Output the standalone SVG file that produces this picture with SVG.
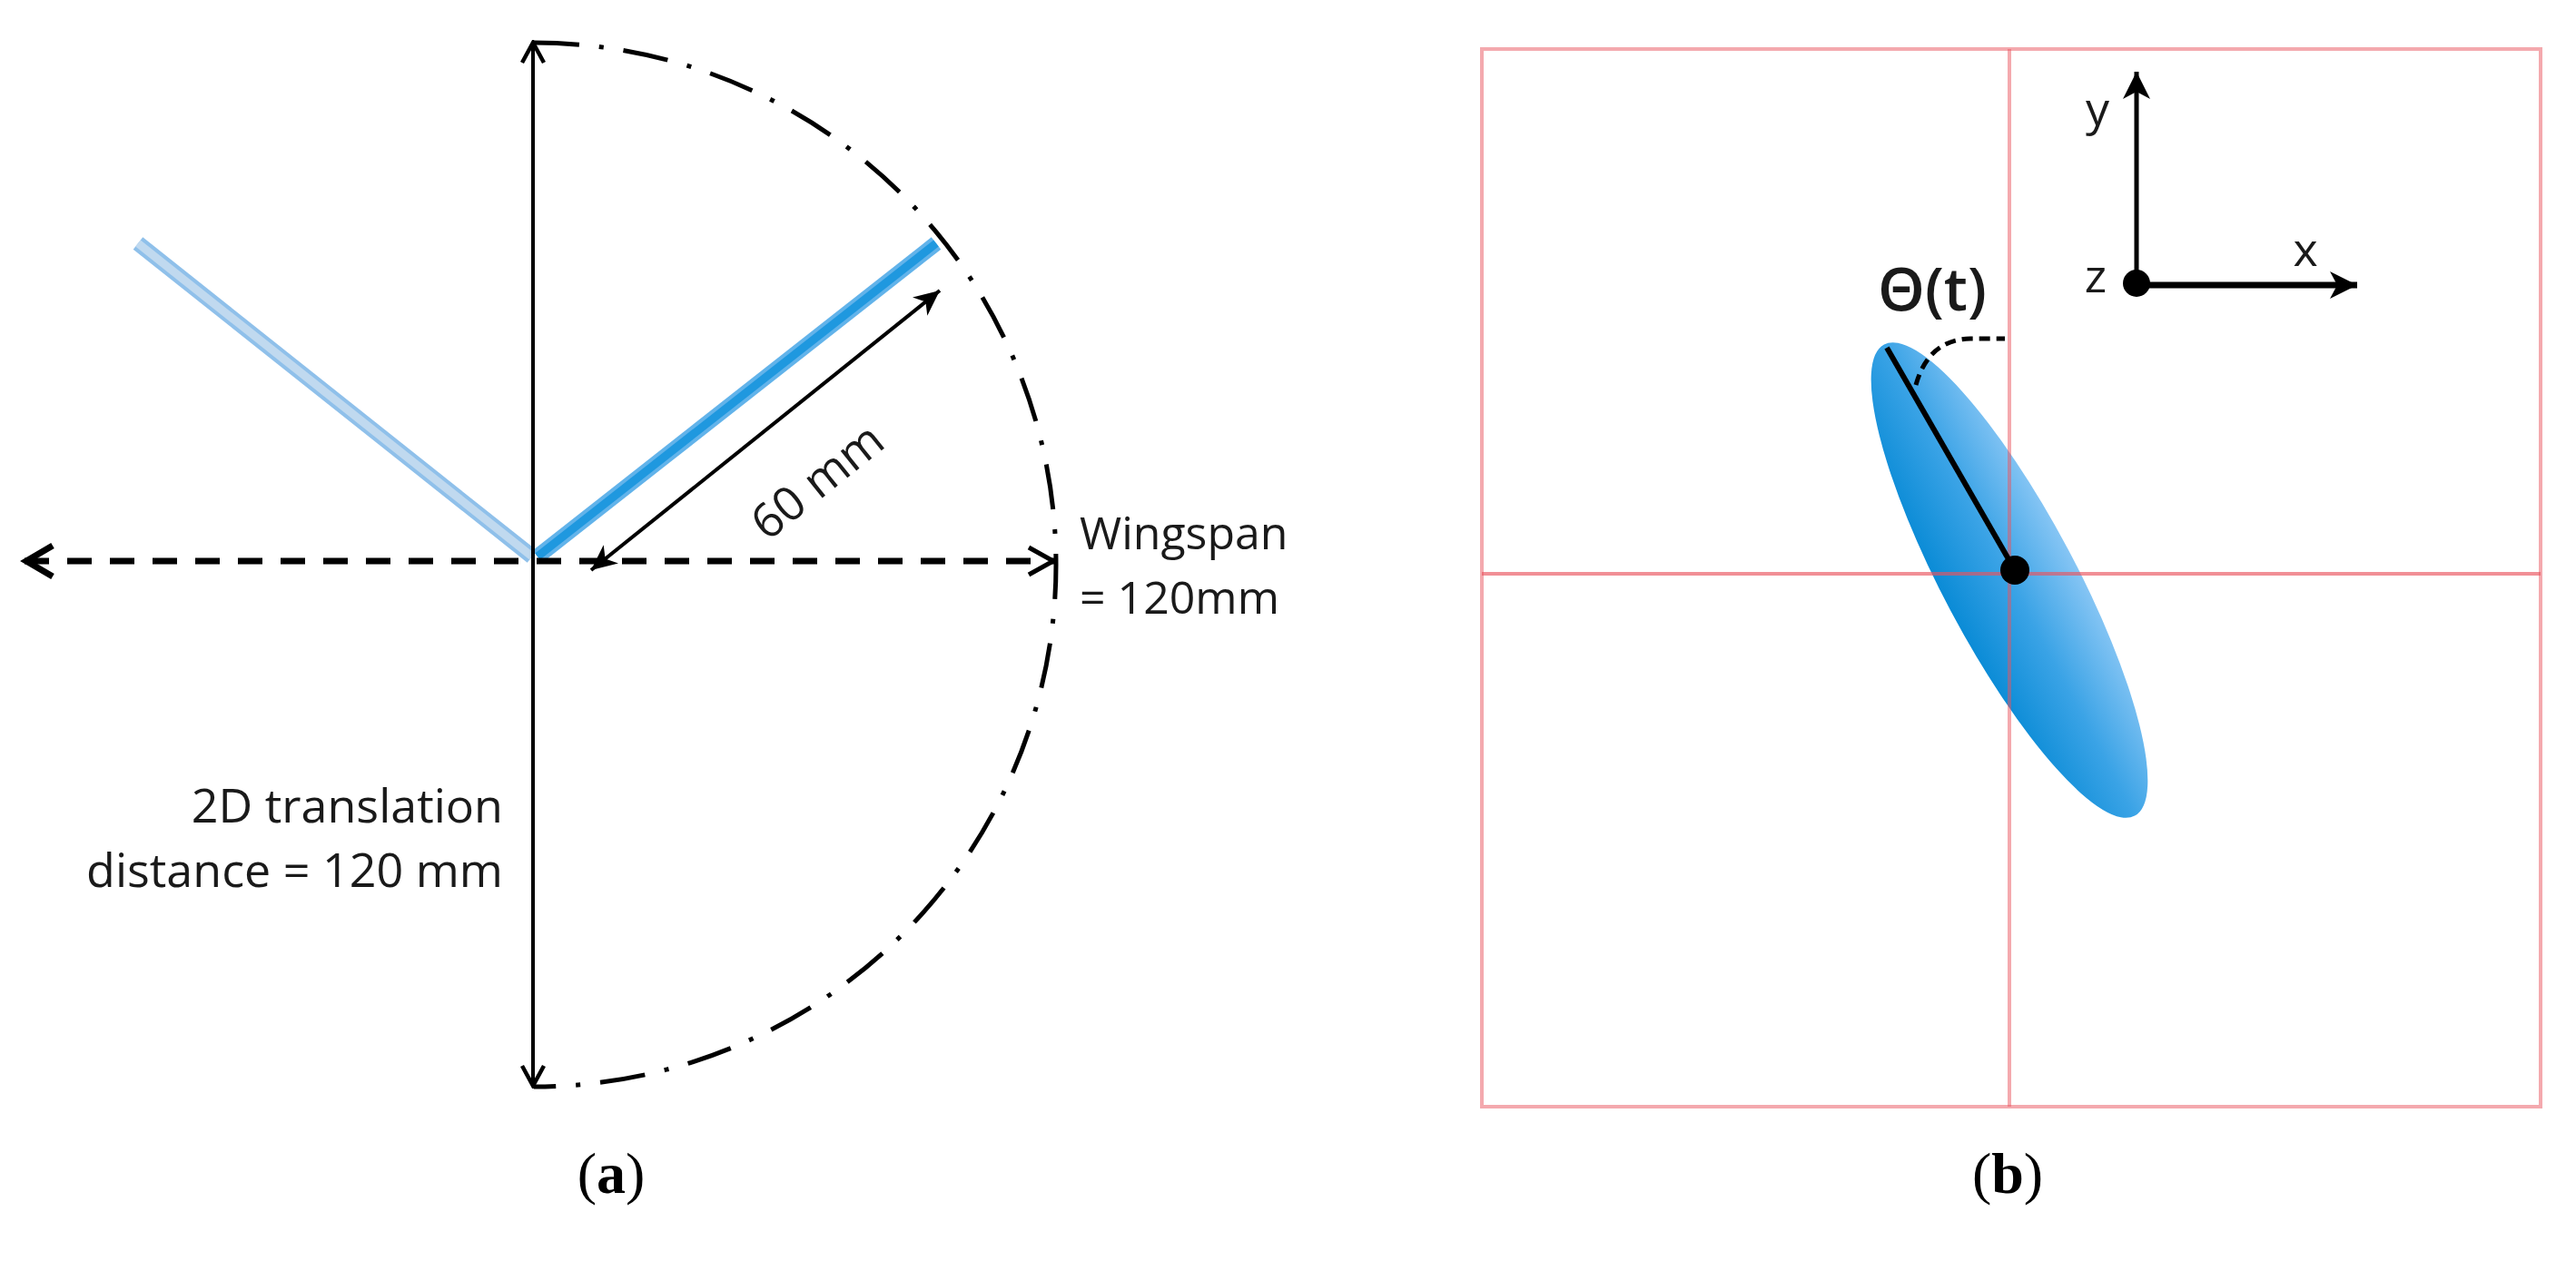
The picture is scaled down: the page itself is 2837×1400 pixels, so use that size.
<svg xmlns="http://www.w3.org/2000/svg" width="2837" height="1400" viewBox="0 0 2837 1400">
  <style>
    .lbl { font-family: "Open Sans", "Liberation Sans", sans-serif; font-size: 52px; fill: #1a1a1a; }
    .cap { font-family: "Liberation Serif", serif; font-size: 64px; fill: #000; }
    .solid { fill: none; stroke: #000; stroke-width: 4; }
    .dashed { fill: none; stroke: #000; stroke-width: 7; stroke-dasharray: 27 20; }
    .dashdot { fill: none; stroke: #000; stroke-width: 5; stroke-dasharray: 50 22 5 22; }
    .grid { fill: none; stroke: #e9535d; stroke-opacity: 0.5; stroke-width: 4; }
  </style>
  <defs>
    <marker id="chev" viewBox="0 0 30 30" refX="27" refY="15" markerWidth="30" markerHeight="30" markerUnits="userSpaceOnUse" orient="auto-start-reverse">
      <path d="M5,3 L27,15 L5,27" fill="none" stroke="#000" stroke-width="4.5"/>
    </marker>
    <marker id="solidHead" viewBox="0 0 30 30" refX="28" refY="15" markerWidth="30" markerHeight="30" markerUnits="userSpaceOnUse" orient="auto-start-reverse">
      <path d="M0,2 L28,15 L0,28 L8,15 z" fill="#000"/>
    </marker>
    <marker id="axisHead" viewBox="0 0 34 34" refX="32" refY="17" markerWidth="34" markerHeight="34" markerUnits="userSpaceOnUse" orient="auto">
      <path d="M2,2 L32,17 L2,32 L10,17 z" fill="#000"/>
    </marker>
    <linearGradient id="ellGrad" x1="0" y1="0" x2="1" y2="0">
      <stop offset="0" stop-color="#0a8bd6"/>
      <stop offset="0.5" stop-color="#3aa3e6"/>
      <stop offset="1" stop-color="#86c5f4"/>
    </linearGradient>
  </defs>

  <rect x="0" y="0" width="2837" height="1400" fill="#fff"/>

  <!-- Panel (a) -->
  <g id="panel-a">
    <g id="wing-left">
      <line x1="152" y1="268" x2="586" y2="613" stroke="#8fc0ea" stroke-width="17"/>
      <line x1="152" y1="268" x2="586" y2="613" stroke="#c0d9ef" stroke-width="9"/>
    </g>
    <g id="wing-right">
      <line x1="592" y1="613" x2="1031" y2="268" stroke="#62b3ea" stroke-width="17"/>
      <line x1="592" y1="613" x2="1031" y2="268" stroke="#1f98df" stroke-width="9"/>
    </g>
    <g id="sweep-arc">
      <path class="dashdot" d="M588,47 A575,575 0 0 1 588,1197"/>
    </g>
    <g id="connectors-a">
      <line class="solid" x1="587" y1="1196" x2="587" y2="47" marker-start="url(#chev)" marker-end="url(#chev)"/>
      <line class="dashed" x1="27" y1="618" x2="1162" y2="618"/>
      <path d="M58,601 L29,618 L58,635" fill="none" stroke="#000" stroke-width="7"/>
      <path d="M1133,603 L1160,618 L1133,633" fill="none" stroke="#000" stroke-width="5"/>
      <line class="solid" x1="651" y1="628" x2="1035" y2="320" marker-start="url(#solidHead)" marker-end="url(#solidHead)"/>
    </g>
    <g id="labels-a">
      <text class="lbl" transform="translate(900,530) rotate(-38.8)" text-anchor="middle" y="18">60 mm</text>
      <text class="lbl" x="1189" y="605" style="font-size:50px">Wingspan</text>
      <text class="lbl" x="1189" y="676" style="font-size:50px">= 120mm</text>
      <text class="lbl" x="554" y="906" text-anchor="end">2D translation</text>
      <text class="lbl" x="554" y="977" text-anchor="end">distance = 120 mm</text>
      <text class="cap" x="673" y="1314" text-anchor="middle">(<tspan font-weight="bold">a</tspan>)</text>
    </g>
  </g>

  <!-- Panel (b) -->
  <g id="panel-b">
    <g id="body-ellipse">
      <ellipse cx="2213" cy="639" rx="73" ry="294" transform="rotate(-28 2213 639)" fill="url(#ellGrad)"/>
    </g>
    <g id="grid">
      <rect class="grid" x="1632" y="54" width="1166" height="1165"/>
      <line class="grid" x1="2213" y1="54" x2="2213" y2="1219"/>
      <line class="grid" x1="1632" y1="632" x2="2798" y2="632" style="stroke-opacity:0.65"/>
    </g>
    <g id="body-axis">
      <line x1="2219" y1="628" x2="2078" y2="383" stroke="#000" stroke-width="6"/>
      <circle cx="2219" cy="628" r="16" fill="#000"/>
      <path d="M2110,424 Q2124,374 2170,373 L2208,373" fill="none" stroke="#000" stroke-width="5" stroke-dasharray="12 7"/>
      <text class="lbl" x="2068" y="342" style="font-size:66px" font-weight="600">Θ(t)</text>
    </g>
    <g id="coord-frame">
      <line x1="2353" y1="312" x2="2353" y2="79" stroke="#000" stroke-width="5" marker-end="url(#axisHead)"/>
      <line x1="2353" y1="314" x2="2596" y2="314" stroke="#000" stroke-width="7" marker-end="url(#axisHead)"/>
      <circle cx="2353" cy="312" r="15" fill="#000"/>
      <text class="lbl" x="2310" y="138" text-anchor="middle">y</text>
      <text class="lbl" x="2539" y="293" text-anchor="middle">x</text>
      <text class="lbl" x="2308" y="322" text-anchor="middle">z</text>
    </g>
    <text class="cap" x="2211" y="1314" text-anchor="middle">(<tspan font-weight="bold">b</tspan>)</text>
  </g>
</svg>
